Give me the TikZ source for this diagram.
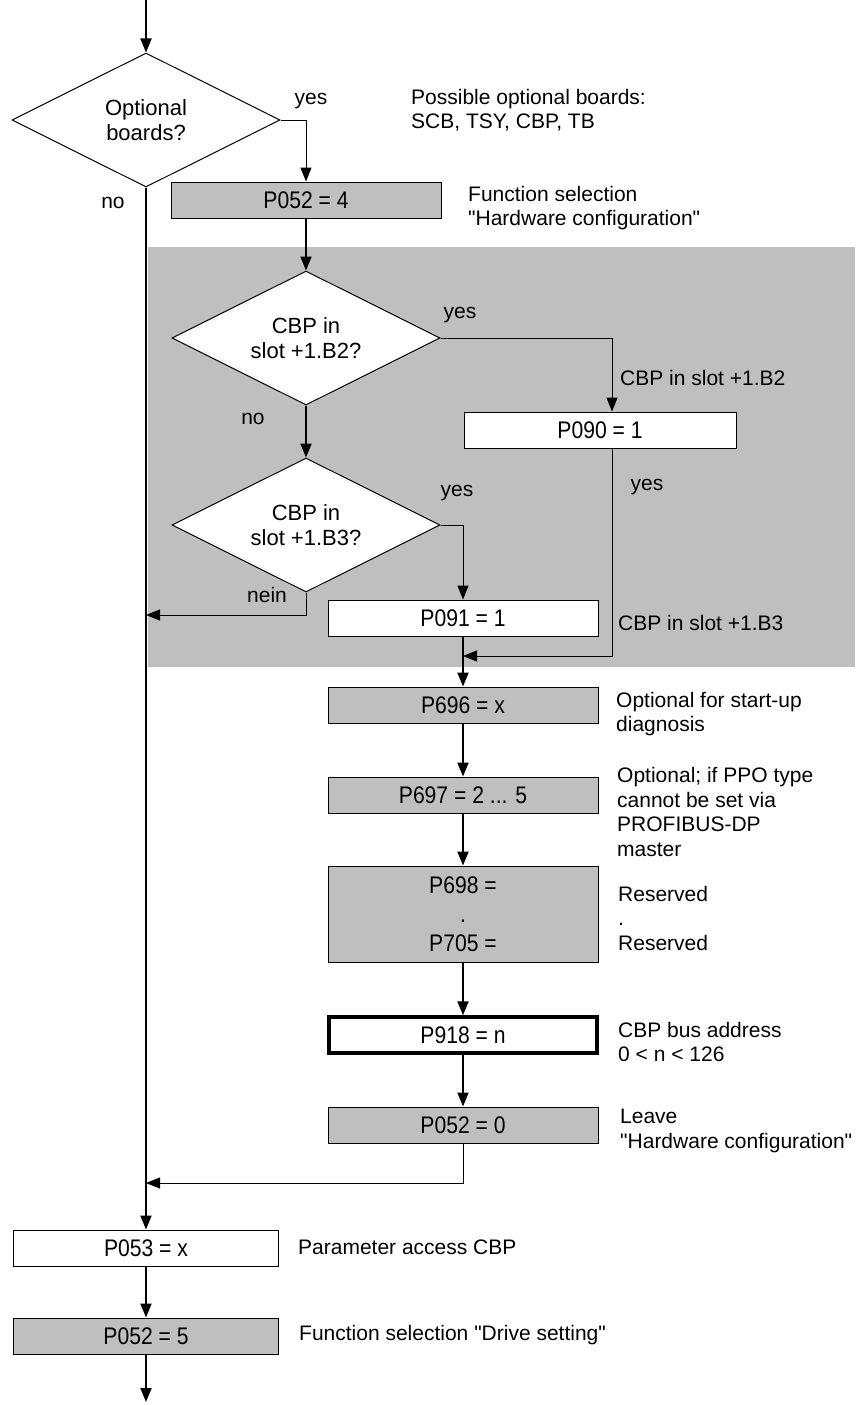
\documentclass[tikz,border=0pt]{standalone}
\usepackage{fontspec}
\setmainfont{Liberation Sans}[Ligatures=TeXOff]
\newfontfamily\boxfont{Liberation Sans}[FakeStretch=0.88,Ligatures=TeXOff]
\usetikzlibrary{shapes.geometric,arrows.meta}
\definecolor{panel}{gray}{0.75}

\begin{document}
\begin{tikzpicture}[x=1pt,y=-1pt,>={Triangle[length=14pt,width=11pt]},
  font=\fontsize{21}{24.5}\selectfont,
  dec/.style={diamond,draw,fill=white,line width=1pt,aspect=2,minimum width=268pt,minimum height=134pt,inner sep=0pt,align=center,
    font=\fontsize{22}{25.5}\selectfont},
  pbox/.style={draw,fill=white,line width=1pt,minimum width=270pt,minimum height=36pt,inner sep=0pt,align=center,
    font=\boxfont\fontsize{24}{28}\selectfont},
  gbox/.style={pbox,fill=panel},
  main/.style={line width=2pt},
  side/.style={line width=1pt},
  note/.style={anchor=west,align=left,inner sep=0pt}]
\useasboundingbox (0,0) rectangle (855,1405);
\fill[panel] (148,247) rectangle (855,667);

% decisions and steps
\node[dec] (d1) at (146,120) {Optional\\boards?};
\node[gbox] (b1) at (306,200) {P052 = 4};
\node[dec] (d2) at (306,338) {CBP in\\slot +1.B2?};
\node[dec] (d3) at (306,525) {CBP in\\slot +1.B3?};
\node[pbox,minimum width=272pt] (b2) at (600,430) {P090 = 1};
\node[pbox] (b3) at (463,618) {P091 = 1};
\node[gbox] (b4) at (463,705) {P696 = x};
\node[gbox] (b5) at (463,795) {P697 = 2 ... 5};
\node[gbox,minimum height=96pt] (b6) at (463,914) {P698 =\\[1pt].\\[1pt]P705 =};
\node[pbox,line width=3.5pt,minimum width=268pt] (b7) at (463,1035) {P918 = n};
\node[gbox] (b8) at (463,1125) {P052 = 0};
\node[pbox,minimum width=265pt] (b9) at (146,1248) {P053 = x};
\node[gbox,minimum width=265pt] (b10) at (146,1336) {P052 = 5};

% free ends
\coordinate (top) at (146,0);
\coordinate (m1) at (146,615);
\coordinate (m2) at (463,656);
\coordinate (m3) at (146,1183);
\coordinate (bot) at (146,1402);

% remarks
\node[note] (n1) at (411,110) {Possible optional boards:\\SCB, TSY, CBP, TB};
\node[note] (n2) at (468,208) {Function selection\\"Hardware configuration"};
\node[note] (n3) at (620,378) {CBP in slot +1.B2};
\node[note] (n4) at (618,623) {CBP in slot +1.B3};
\node[note] (n5) at (616,714) {Optional for start-up\\diagnosis};
\node[note] (n6) at (617,812) {Optional; if PPO type\\cannot be set via\\PROFIBUS-DP\\master};
\node[note] (n7) at (618,918) {Reserved\\.\\Reserved};
\node[note] (n8) at (618,1042) {CBP bus address\\0 < n < 126};
\node[note] (n9) at (620,1131) {Leave\\"Hardware configuration"};
\node[note] (n10) at (298,1247) {Parameter access CBP};
\node[note] (n11) at (299,1335) {Function selection "Drive setting"};

% branch labels
\node (y1) at (311,101) {yes};
\node (no1) at (113,203) {no};
\node (y2) at (460,315) {yes};
\node (no2) at (253,419) {no};
\node (y3) at (457,493) {yes};
\node (y4) at (647,487) {yes};
\node (nein) at (267,595) {nein};

% flow
\draw[main,->] (top) -- (d1.north);
\draw[side,->] (d1.east) -| (b1.north);
\draw[main,->] (b1.south) -- (d2.north);
\draw[side,->] (d2.east) -| ([xshift=12pt]b2.north);
\draw[main,->] (d2.south) -- (d3.north);
\draw[side,->] (d3.east) -| (b3.north);
\draw[side,->] (d3.south) |- (m1);
\draw[side,->] ([xshift=12pt]b2.south) |- (m2);
\draw[main,->] (b3.south) -- (b4.north);
\draw[main,->] (b4.south) -- (b5.north);
\draw[main,->] (b5.south) -- (b6.north);
\draw[main,->] (b6.south) -- (b7.north);
\draw[main,->] (b7.south) -- (b8.north);
\draw[side,->] (b8.south) |- (m3);
\draw[main,->] (d1.south) -- (b9.north);
\draw[main,->] (b9.south) -- (b10.north);
\draw[main,->] (b10.south) -- (bot);
\end{tikzpicture}
\end{document}
